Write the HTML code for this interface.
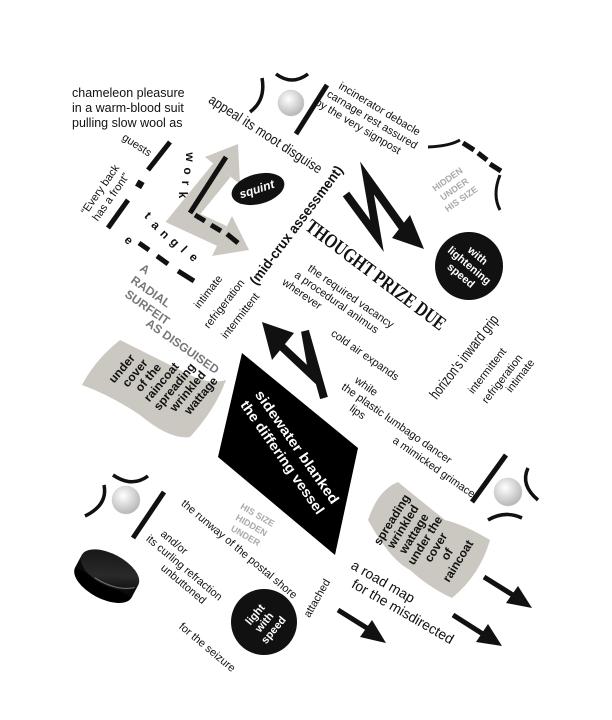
<!DOCTYPE html>
<html><head><meta charset="utf-8"><style>
html,body{margin:0;padding:0;background:#fff;width:612px;height:720px;overflow:hidden}
svg{display:block}
text{font-family:"Liberation Sans",sans-serif;fill:#111}
.b{font-weight:bold}
</style></head><body>
<svg width="612" height="720" viewBox="0 0 612 720" xmlns="http://www.w3.org/2000/svg">
<defs>
<radialGradient id="ball" cx="40%" cy="35%" r="65%"><stop offset="0" stop-color="#fff"/><stop offset="1" stop-color="#b8b8b8"/></radialGradient>
<linearGradient id="puck" x1="0" y1="0" x2="1" y2="1"><stop offset="0" stop-color="#111"/><stop offset="0.6" stop-color="#2a2a2a"/><stop offset="1" stop-color="#000"/></linearGradient>
</defs>

<text x="72" y="97" font-size="12.5">chameleon pleasure</text>
<text x="72" y="112" font-size="12.5">in a warm-blood suit</text>
<text x="72" y="127" font-size="12.5">pulling slow wool as</text>

<path d="M262,78 Q266,100 250,112" fill="none" stroke="#111" stroke-width="3.5"/>
<path d="M276,74 Q292,86 308,74" fill="none" stroke="#111" stroke-width="3.5"/>
<circle cx="291" cy="103" r="13" fill="url(#ball)" stroke="#ccc" stroke-width="0.5"/>
<line x1="296" y1="134" x2="327" y2="85" stroke="#111" stroke-width="5"/>

<text transform="translate(263,138) rotate(33)" text-anchor="middle" font-size="14" textLength="132" lengthAdjust="spacingAndGlyphs">appeal its moot disguise</text>

<g transform="translate(338,88) rotate(31)" font-size="11">
<text x="0" y="0">incinerator debacle</text>
<text x="-6" y="13">carnage rest assured</text>
<text x="-12" y="26">by the very signpost</text>
</g>

<path d="M428,147 Q450,146 460,140" fill="none" stroke="#111" stroke-width="3"/>
<line x1="463" y1="143" x2="474" y2="150" stroke="#111" stroke-width="5"/>
<line x1="478" y1="153" x2="487" y2="160" stroke="#111" stroke-width="5"/>
<line x1="490" y1="164" x2="501" y2="171" stroke="#111" stroke-width="5"/>
<path d="M500,175 Q492,195 500,210" fill="none" stroke="#111" stroke-width="3"/>
<g transform="translate(455,190) rotate(-35)" font-size="9" class="b" text-anchor="middle">
<text y="-10" style="fill:#aaa">HIDDEN</text><text y="2" style="fill:#aaa">UNDER</text><text y="14" style="fill:#aaa">HIS SIZE</text>
</g>

<text transform="translate(135,148) rotate(33)" text-anchor="middle" font-size="11">guests</text>
<line x1="148" y1="170" x2="170" y2="142" stroke="#111" stroke-width="5"/>
<g font-size="12" class="b" text-anchor="middle">
<text transform="translate(186,157) rotate(90)">w</text>
<text transform="translate(184,171) rotate(90)">o</text>
<text transform="translate(182,183) rotate(90)">r</text>
<text transform="translate(179,195) rotate(90)">k</text>
</g>
<text transform="translate(108,195) rotate(-55)" text-anchor="middle" font-size="11"><tspan x="0" y="-6">“Every back</tspan><tspan x="0" y="7">has a front”</tspan></text>
<rect x="136" y="181" width="7" height="7" fill="#111" transform="rotate(30 140 185)"/>
<line x1="108" y1="228" x2="128" y2="200" stroke="#111" stroke-width="5"/>
<g font-size="12" class="b" text-anchor="middle">
<text transform="translate(145,218) rotate(45)">t</text>
<text transform="translate(153,228) rotate(45)">a</text>
<text transform="translate(162,237) rotate(45)">n</text>
<text transform="translate(172,245) rotate(45)">g</text>
<text transform="translate(181,252) rotate(45)">l</text>
<text transform="translate(191,260) rotate(45)">e</text>
<text transform="translate(126,243) rotate(45)">e</text>
</g>
<line x1="139" y1="243" x2="149" y2="250" stroke="#111" stroke-width="5"/>
<line x1="157" y1="256" x2="168" y2="264" stroke="#111" stroke-width="5"/>
<line x1="178" y1="271" x2="194" y2="281" stroke="#111" stroke-width="5"/>
<g font-size="12" class="b">
<text transform="translate(139,270) rotate(35)" style="fill:#777">A</text>
<text transform="translate(130,282) rotate(35)" style="fill:#777">RADIAL</text>
<text transform="translate(124,296) rotate(35)" style="fill:#777">SURFEIT</text>
<text transform="translate(145,325) rotate(35)" style="fill:#777">AS DISGUISED</text>
</g>

<!-- gray L arrow -->
<polyline points="222,170 183,218 222,236" fill="none" stroke="#cbc7c1" stroke-width="22" stroke-linejoin="miter"/>
<polygon points="238,144 240,184 205,157" fill="#cbc7c1"/>
<polygon points="249,250 212,256 232,216" fill="#cbc7c1"/>
<line x1="226" y1="157" x2="190" y2="213" stroke="#111" stroke-width="5"/>
<line x1="195" y1="215" x2="205" y2="221" stroke="#111" stroke-width="5"/>
<line x1="211" y1="225" x2="221" y2="231" stroke="#111" stroke-width="5"/>
<line x1="227" y1="234" x2="238" y2="243" stroke="#111" stroke-width="5"/>

<ellipse cx="258" cy="189" rx="27" ry="15" fill="#111" transform="rotate(-15 258 189)"/>
<text transform="translate(258,193) rotate(-18)" text-anchor="middle" font-size="12" class="b" style="fill:#fff;font-style:italic">squint</text>

<text transform="translate(300,228) rotate(-53)" text-anchor="middle" font-size="14" class="b" textLength="145" lengthAdjust="spacingAndGlyphs">(mid-crux assessment)</text>

<g font-size="11" text-anchor="middle">
<text transform="translate(211,294) rotate(-52)">intimate</text>
<text transform="translate(227,306) rotate(-52)">refrigeration</text>
<text transform="translate(243,318) rotate(-52)">intermittent</text>
</g>

<!-- top bolt -->
<polyline points="346,194 377,236 367,178 405,231" fill="none" stroke="#111" stroke-width="8" stroke-miterlimit="10"/>
<polygon points="424,249 410,215 392,238" fill="#111"/>
<circle cx="469" cy="266" r="34" fill="#111"/>
<g transform="translate(469,266) rotate(40)" font-size="11" class="b" text-anchor="middle">
<text y="-10" style="fill:#fff">with</text><text y="3" style="fill:#fff">lightening</text><text y="16" style="fill:#fff">speed</text>
</g>

<text transform="translate(372,280) rotate(37)" text-anchor="middle" font-size="20" class="b" textLength="170" lengthAdjust="spacingAndGlyphs" style="font-family:'Liberation Serif',serif">THOUGHT PRIZE DUE</text>

<g transform="translate(307,270) rotate(35)" font-size="11">
<text x="0" y="0">the required vacancy</text>
<text x="-7" y="13">a procedural animus</text>
<text x="-13" y="26">wherever</text>
</g>
<text transform="translate(363,358) rotate(35)" text-anchor="middle" font-size="11">cold air expands</text>
<g transform="translate(354,382) rotate(35)" font-size="11">
<text x="0" y="0">while</text>
<text x="-7" y="13">the plastic lumbago dancer</text>
<text x="12" y="26">lips</text>
</g>
<text transform="translate(432,470) rotate(35)" text-anchor="middle" font-size="11">a mimicked grimace</text>

<text transform="translate(468,360) rotate(-52)" text-anchor="middle" font-size="15" textLength="102" lengthAdjust="spacingAndGlyphs">horizon's inward grip</text>
<g font-size="11" text-anchor="middle">
<text transform="translate(490,373) rotate(-52)">intermittent</text>
<text transform="translate(505,381) rotate(-52)">refrigeration</text>
<text transform="translate(523,378) rotate(-52)">intimate</text>
</g>

<!-- bottom bolt -->
<polyline points="280,345 313,376 305,331 324,398" fill="none" stroke="#111" stroke-width="8" stroke-miterlimit="10"/>
<polygon points="262,322 294,333 272,360" fill="#111"/>

<!-- left flag -->
<path d="M82,385 Q95,360 120,340 Q150,355 190,375 Q210,385 226,380 Q215,410 190,437 Q170,440 140,415 Q110,395 82,385 Z" fill="#cbc7c1"/>
<g transform="translate(153,392) rotate(-50)" font-size="12" class="b" text-anchor="middle">
<text x="-2" y="-35">under</text><text x="3" y="-22">cover</text><text x="8" y="-9">of the</text><text x="13" y="4">raincoat</text><text x="18" y="17">spreading</text><text x="23" y="30">wrinkled</text><text x="28" y="43">wattage</text>
</g>

<polygon points="242,353 358,448 335,555 218,457" fill="#000"/>
<g transform="translate(290,452) rotate(55)" font-size="14" class="b" text-anchor="middle">
<text y="-4" style="fill:#fff" textLength="135" lengthAdjust="spacingAndGlyphs">sidewater blanked</text><text y="14" style="fill:#fff" textLength="135" lengthAdjust="spacingAndGlyphs">the differing vessel</text>
</g>

<path d="M104,485 Q108,505 85,516" fill="none" stroke="#111" stroke-width="3.5"/>
<path d="M113,475 Q132,488 148,476" fill="none" stroke="#111" stroke-width="3.5"/>
<circle cx="126" cy="500" r="14" fill="url(#ball)" stroke="#ccc" stroke-width="0.5"/>
<line x1="133" y1="538" x2="164" y2="492" stroke="#111" stroke-width="5"/>
<g transform="translate(250,528) rotate(30)" font-size="9" class="b" text-anchor="middle">
<text y="-12" style="fill:#aaa">HIS SIZE</text><text y="0" style="fill:#aaa">HIDDEN</text><text y="12" style="fill:#aaa">UNDER</text>
</g>
<text transform="translate(237,552) rotate(40)" text-anchor="middle" font-size="11">the runway of the postal shore</text>
<g transform="translate(160,535) rotate(40)" font-size="11">
<text x="0" y="0">and/or</text>
<text x="-8" y="13">its curling refraction</text>
<text x="22" y="26">unbuttoned</text>
</g>
<g transform="translate(110,570) rotate(28)">
<ellipse cx="0" cy="14" rx="32" ry="16" fill="#000"/>
<rect x="-32" y="0" width="64" height="14" fill="#0a0a0a"/>
<ellipse cx="0" cy="0" rx="32" ry="16" fill="url(#puck)"/>
<path d="M-10,14 Q15,16 30,4" fill="none" stroke="#777" stroke-width="1"/>
</g>
<text transform="translate(205,650) rotate(40)" text-anchor="middle" font-size="11">for the seizure</text>
<circle cx="264" cy="622" r="33" fill="#111"/>
<g transform="translate(264,622) rotate(-50)" font-size="11" class="b" text-anchor="middle">
<text y="-8" style="fill:#fff">light</text><text y="4" style="fill:#fff">with</text><text y="16" style="fill:#fff">speed</text>
</g>
<text transform="translate(320,600) rotate(-60)" text-anchor="middle" font-size="11">attached</text>

<g fill="#111">
<line x1="338" y1="610" x2="370" y2="630" stroke="#111" stroke-width="5"/>
<polygon points="386,643 360,637 372,620"/>
<line x1="453" y1="615" x2="486" y2="636" stroke="#111" stroke-width="5"/>
<polygon points="502,646 476,642 488,624"/>
<line x1="484" y1="577" x2="516" y2="597" stroke="#111" stroke-width="5"/>
<polygon points="532,608 506,603 518,586"/>
</g>
<g transform="translate(350,568) rotate(30)" font-size="14">
<text x="0" y="0">a road map</text>
<text x="10" y="16">for the misdirected</text>
</g>

<path d="M368,520 Q378,490 398,482 Q420,500 445,520 Q465,525 490,540 Q480,575 452,598 Q430,588 410,570 Q390,560 368,520 Z" fill="#cbc7c1"/>
<g transform="translate(420,535) rotate(-58)" font-size="12" class="b" text-anchor="middle">
<text x="-2" y="-28">spreading</text><text x="-2" y="-15">wrinkled</text><text x="-2" y="-2">wattage</text><text x="-2" y="11">under the</text><text x="-2" y="24">cover</text><text x="-2" y="37">of</text><text x="-2" y="50">raincoat</text>
</g>

<line x1="472" y1="502" x2="506" y2="455" stroke="#111" stroke-width="5"/>
<circle cx="508" cy="492" r="14" fill="url(#ball)" stroke="#ccc" stroke-width="0.5"/>
<path d="M528,468 Q520,485 538,500" fill="none" stroke="#111" stroke-width="3.5"/>
<path d="M488,520 Q505,510 522,518" fill="none" stroke="#111" stroke-width="3.5"/>
</svg>
</body></html>
